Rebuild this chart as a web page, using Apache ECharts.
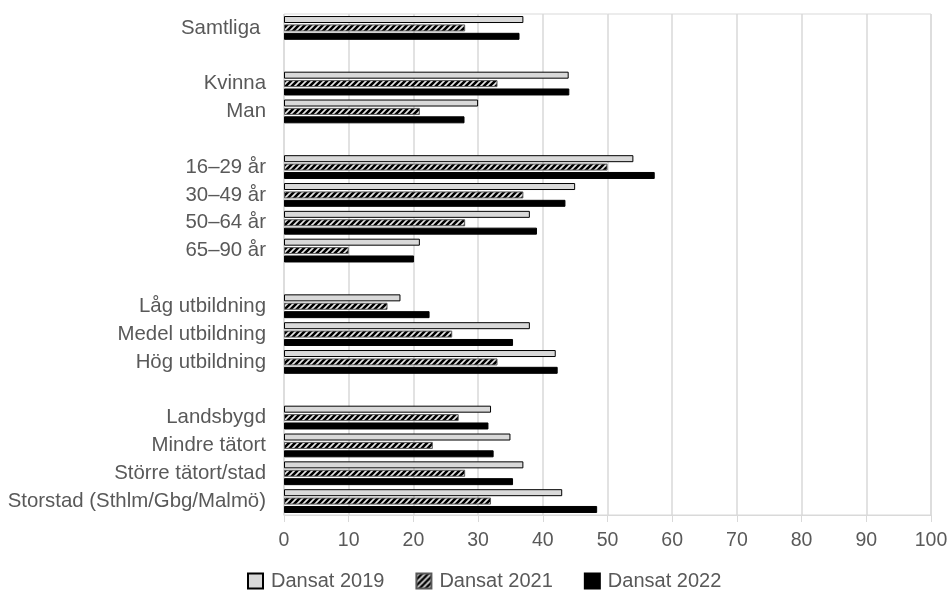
<!DOCTYPE html>
<html>
<head>
<meta charset="utf-8">
<script src="https://cdn.jsdelivr.net/npm/echarts@6/dist/echarts.min.js"></script>
<style>html,body{margin:0;padding:0;background:#fff;}#c{width:952px;height:591px;}</style>
</head>
<body>
<div id="c"></div>
<script>
var categories = ['Samtliga ', '', 'Kvinna', 'Man', ' ', '16–29 år', '30–49 år', '50–64 år', '65–90 år', '  ',
  'Låg utbildning', 'Medel utbildning', 'Hög utbildning', '   ',
  'Landsbygd', 'Mindre tätort', 'Större tätort/stad', 'Storstad (Sthlm/Gbg/Malmö)'];
var dansat2019 = [37, null, 44, 30, null, 54, 45, 38, 21, null, 18, 38, 42, null, 32, 35, 37, 43];
var dansat2021 = [28, null, 33, 21, null, 50, 37, 28, 10, null, 16, 26, 33, null, 27, 23, 28, 32];
var dansat2022 = [36.4, null, 44.1, 27.9, null, 57.3, 43.5, 39.1, 20.1, null, 22.5, 35.4, 42.3, null, 31.6, 32.4, 35.4, 48.4];
var seriesNames = ['Dansat 2019', 'Dansat 2021', 'Dansat 2022'];
var xTicks = {min: 0, max: 100, interval: 10};

// hatch pattern
var pc = document.createElement('canvas');
pc.width = 6; pc.height = 6;
var g = pc.getContext('2d');
g.fillStyle = '#e6e6e6';
g.fillRect(0, 0, 6, 6);
g.strokeStyle = '#000';
g.lineWidth = 2.6;
g.beginPath();
g.moveTo(-1, 7); g.lineTo(7, -1);
g.moveTo(-4, 4); g.lineTo(4, -4);
g.moveTo(2, 10); g.lineTo(10, 2);
g.stroke();

var chart = echarts.init(document.getElementById('c'), null, {renderer: 'canvas'});
var txt = '#595959';
var font = 'Liberation Sans, Arial, sans-serif';
chart.setOption({
  animation: false,
  backgroundColor: '#fff',
  grid: {left: 284, right: 21, top: 14, bottom: 76, show: true, borderColor: '#d9d9d9', borderWidth: 1},
  xAxis: {
    type: 'value', min: xTicks.min, max: xTicks.max, interval: xTicks.interval,
    axisLine: {show: true, lineStyle: {color: '#d9d9d9', width: 1}},
    axisTick: {show: true, length: 7, lineStyle: {color: '#d9d9d9'}},
    splitLine: {show: true, lineStyle: {color: '#d9d9d9', width: 1.5}},
    axisLabel: {color: txt, fontSize: 19.5, fontFamily: font, margin: 16}
  },
  yAxis: {
    type: 'category', data: categories, inverse: true,
    axisLine: {show: false}, axisTick: {show: false},
    axisLabel: {color: txt, fontSize: 20.4, fontFamily: font, margin: 18, interval: 0}
  },
  legend: {
    left: 247, top: 571, padding: 0, itemWidth: 15, itemHeight: 15, itemGap: 31, icon: 'rect',
    textStyle: {color: txt, fontSize: 20, fontFamily: font, padding: [0, 0, 0, 3]},
    data: seriesNames
  },
  series: [
    {name: seriesNames[0], type: 'bar', data: dansat2019, barWidth: 7, barGap: '20%',
     itemStyle: {color: '#d9d9d9', borderColor: '#000', borderWidth: 1}},
    {name: seriesNames[1], type: 'bar', data: dansat2021, barWidth: 7, barGap: '20%',
     itemStyle: {color: {image: pc, repeat: 'repeat'}, borderColor: '#595959', borderWidth: 1}},
    {name: seriesNames[2], type: 'bar', data: dansat2022, barWidth: 7, barGap: '20%',
     itemStyle: {color: '#000', borderColor: '#000', borderWidth: 1}}
  ]
});
</script>
</body>
</html>
